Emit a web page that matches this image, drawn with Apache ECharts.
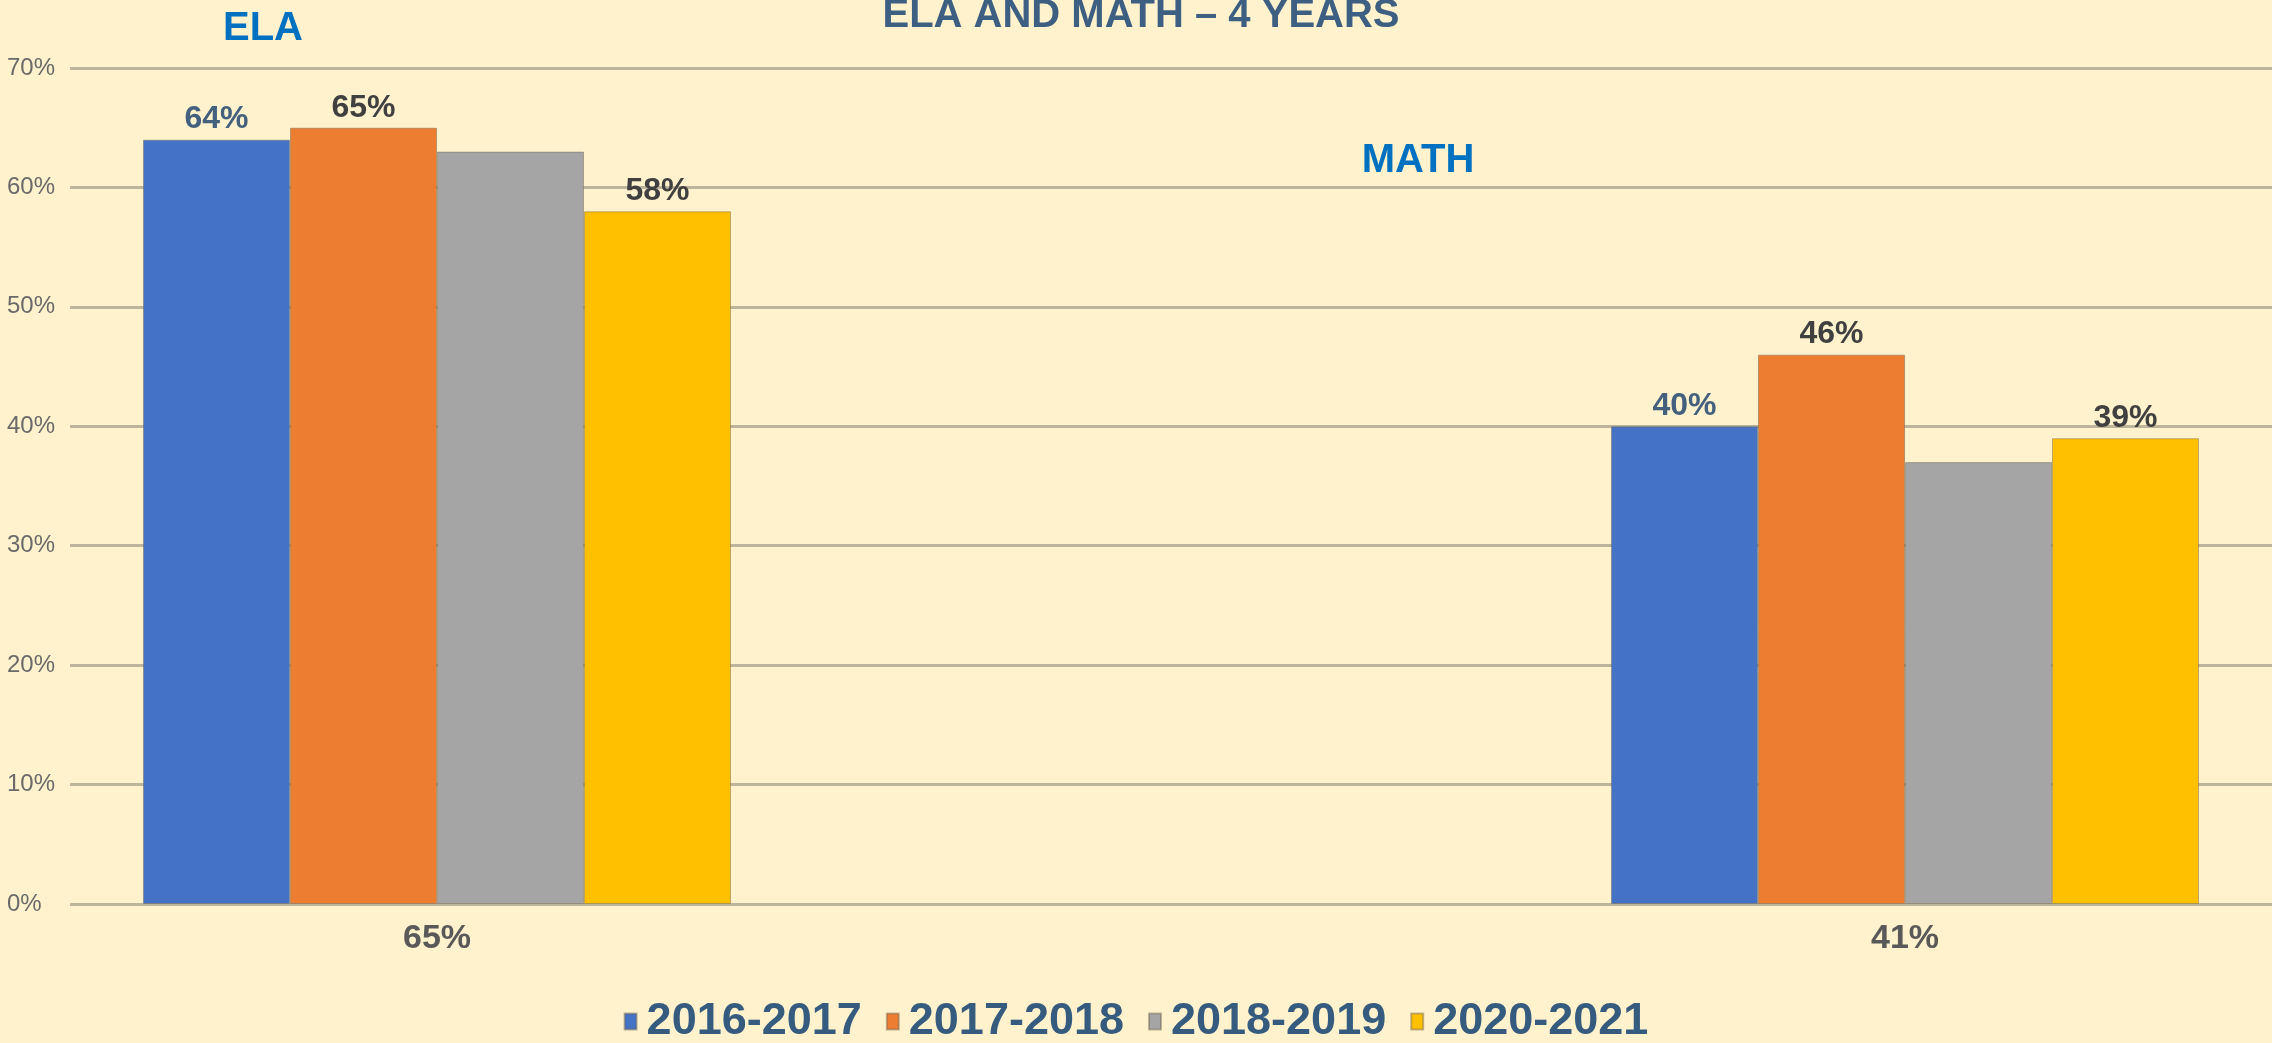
<!DOCTYPE html>
<html>
<head>
<meta charset="utf-8">
<script src="https://cdn.jsdelivr.net/npm/echarts@6/dist/echarts.min.js"></script>
<style>
  html, body { margin: 0; padding: 0; background: #fff2cd; }
  #chart { width: 2272px; height: 1043px; }
</style>
</head>
<body>
<div id="chart"></div>
<script>
// category labels under each group (as printed on the slide); the middle slot is an empty gap
const categories = ['65%', '', '41%']
const years = ['2016-2017', '2017-2018', '2018-2019', '2020-2021']
// ELA, (gap), MATH
const v2016 = [64, null, 40]
const v2017 = [65, null, 46]
const v2018 = [63, null, 37]
const v2020 = [58, null, 39]
const yearValues = [v2016, v2017, v2018, v2020]
const showLabel = [true, true, false, true]

const COLORS = ['#4472c4', '#ed7d31', '#a5a5a5', '#ffc000']
const LABEL_COLORS = ['#43607f', '#404040', '#404040', '#404040']
const FONT = "'Liberation Sans', Arial, sans-serif"

const chart = echarts.init(document.getElementById('chart'))

const series = years.map((name, i) => ({
  name, type: 'bar',
  data: yearValues[i],
  barWidth: 147, barGap: '0%',
  itemStyle: { color: COLORS[i], borderColor: 'rgba(110,100,80,0.45)', borderWidth: 1 },
  label: {
    show: showLabel[i], position: 'top', distance: 4,
    formatter: '{c}%', fontFamily: FONT, fontWeight: 'bold',
    fontSize: 32, color: LABEL_COLORS[i],
  },
}))

chart.setOption({
  backgroundColor: '#fff2cd',
  animation: false,
  title: [
    { text: 'ELA AND MATH – 4 YEARS', left: 1136, top: -9, textAlign: 'center',
      textStyle: { fontFamily: FONT, fontSize: 40, fontWeight: 'bold', color: '#3d5f82' } },
    { text: 'ELA', left: 258, top: 4, textAlign: 'center',
      textStyle: { fontFamily: FONT, fontSize: 40, fontWeight: 'bold', color: '#0070c0' } },
    { text: 'MATH', left: 1413, top: 136, textAlign: 'center',
      textStyle: { fontFamily: FONT, fontSize: 40, fontWeight: 'bold', color: '#0070c0' } },
  ],
  legend: {
    data: years, left: 'center', top: 994,
    icon: 'rect', itemWidth: 12, itemHeight: 16, itemGap: 24,
    textStyle: { fontFamily: FONT, fontSize: 45, fontWeight: 'bold', color: '#355b7e',
      padding: [0, 0, 0, 5] },
  },
  grid: { left: 70, right: 0, top: 68, bottom: 139 },
  xAxis: {
    type: 'category', data: categories,
    axisLine: { show: false }, axisTick: { show: false },
    axisLabel: { margin: 18, fontFamily: FONT, fontSize: 34, fontWeight: 'bold', color: '#595959' },
  },
  yAxis: {
    type: 'value', min: 0, max: 70, interval: 10,
    axisLine: { show: false }, axisTick: { show: false },
    axisLabel: { formatter: '{value}%', align: 'left', margin: 63,
      fontFamily: FONT, fontSize: 24, color: '#6a6a6a' },
    splitLine: { lineStyle: { color: '#bdb59b', width: 3 } },
  },
  series,
})
</script>
</body>
</html>
